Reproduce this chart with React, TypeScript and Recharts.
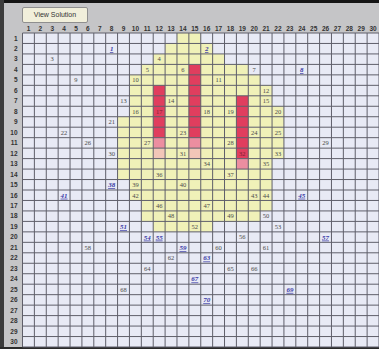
import { ScatterChart, Scatter, XAxis, YAxis, ReferenceArea, ReferenceLine } from "recharts";

// header labels
const colTicks = [1, 2, 3, 4, 5, 6, 7, 8, 9, 10, 11, 12, 13, 14, 15, 16, 17, 18, 19, 20, 21, 22, 23, 24, 25, 26, 27, 28, 29, 30];
const rowTicks = [1, 2, 3, 4, 5, 6, 7, 8, 9, 10, 11, 12, 13, 14, 15, 16, 17, 18, 19, 20, 21, 22, 23, 24, 25, 26, 27, 28, 29, 30];

// yellow band, one entry per row
const yellowRows = [1, 2, 3, 4, 5, 6, 7, 8, 9, 10, 11, 12, 13, 14, 15, 16, 17, 18, 19];
const yellowFrom = [14, 13, 12, 11, 10, 10, 10, 10, 9, 9, 9, 9, 9, 9, 10, 10, 11, 11, 12];
const yellowTo = [15, 16, 17, 19, 20, 21, 21, 22, 22, 22, 22, 22, 21, 21, 21, 21, 21, 20, 16];

// red columns
const redCols = [12, 15, 19];
const redFrom = [6, 4, 7];
const redTo = [10, 10, 12];
const pinkCols = [12, 15, 19];
const pinkRows = [11, 11, 13];
const paleCols = [12, 15];
const paleRows = [12, 12];

// numbers written in the cells
const numLabels = [1, 2, 3, 4, 5, 6, 7, 8, 9, 10, 11, 12, 13, 14, 15, 16, 17, 18, 19, 20, 21, 22, 23, 24, 25, 26, 27, 28, 29, 30, 31, 32, 33, 34, 35, 36, 37, 38, 39, 40, 41, 42, 43, 44, 45, 46, 47, 48, 49, 50, 51, 52, 53, 54, 55, 56, 57, 58, 59, 60, 61, 62, 63, 64, 65, 66, 67, 68, 69, 70];
const numCols = [8, 16, 3, 12, 11, 14, 20, 24, 5, 10, 17, 21, 9, 13, 21, 10, 12, 16, 18, 22, 8, 4, 14, 20, 22, 6, 11, 18, 26, 8, 14, 19, 22, 16, 21, 12, 18, 8, 10, 14, 4, 10, 20, 21, 24, 12, 16, 13, 18, 21, 9, 15, 22, 11, 12, 19, 26, 6, 14, 17, 21, 13, 16, 11, 18, 20, 15, 9, 23, 16];
const numRows = [2, 2, 3, 3, 4, 4, 4, 4, 5, 5, 5, 6, 7, 7, 7, 8, 8, 8, 8, 8, 9, 10, 10, 10, 10, 11, 11, 11, 11, 12, 12, 12, 12, 13, 13, 14, 14, 15, 15, 15, 16, 16, 16, 16, 16, 17, 17, 18, 18, 18, 19, 19, 19, 20, 20, 20, 20, 21, 21, 21, 21, 22, 22, 23, 23, 23, 24, 25, 25, 26];
const blueLabels = [1, 2, 8, 38, 41, 45, 51, 54, 55, 57, 59, 63, 67, 69, 70];
const onRedLabels = [17, 32];

const points = numLabels.map((n, i) => ({ x: numCols[i], y: numRows[i], label: n }));
const gridLines = [0.5, ...colTicks.map((t) => t + 0.5)];

const CELL_BG = "#e8eaf5";
const YELLOW = "#f0f1b8";
const RED = "#e03e5e";
const PINK = "#ec8ea0";
const PALE = "#f2c6b8";
const LINE = "#5f5f6a";

function NumberShape(props: any) {
  const { cx, cy, payload } = props;
  const blue = blueLabels.includes(payload.label);
  const onRed = onRedLabels.includes(payload.label);
  return (
    <text
      x={cx}
      y={cy}
      dy="0.35em"
      textAnchor="middle"
      fontSize={blue ? 7 : 6.5}
      fontFamily='"Liberation Serif", serif'
      fontWeight={blue ? "bold" : "normal"}
      fontStyle={blue ? "italic" : "normal"}
      textDecoration={blue ? "underline" : "none"}
      fill={blue ? "#3b3ba6" : onRed ? "#7a1f33" : "#4a4a4a"}
    >
      {payload.label}
    </text>
  );
}

export default function App() {
  return (
    <div
      style={{
        position: "fixed",
        left: 0,
        top: 0,
        width: 379,
        height: 349,
        background: "#c5c5c7",
        overflow: "hidden",
        fontFamily: '"Liberation Sans", Arial, sans-serif',
      }}
    >
      <div style={{ position: "absolute", left: 0, top: 0, width: 379, height: 3, background: "#151515" }} />
      <div style={{ position: "absolute", left: 0, top: 0, width: 4, height: 349, background: "#3c3c3c" }} />
      <div style={{ position: "absolute", left: 0, top: 347, width: 379, height: 2, background: "#2a2a2a" }} />
      <div
        style={{
          position: "absolute",
          left: 22,
          top: 7,
          width: 64,
          height: 14,
          background: "#f1efdb",
          border: "1px solid #8f8f8f",
          borderRadius: 2,
          fontSize: 7,
          lineHeight: "14px",
          textAlign: "center",
          color: "#333",
        }}
      >
        View Solution
      </div>
      <div style={{ position: "absolute", left: 0, top: 0 }}>
        <ScatterChart width={379} height={349} margin={{ top: 22, right: 0, bottom: 2, left: 5 }}>
          <XAxis
            type="number"
            dataKey="x"
            domain={[0.5, 30.5]}
            ticks={colTicks}
            orientation="top"
            height={11}
            interval={0}
            tickLine={false}
            axisLine={false}
            tickSize={0}
            tickMargin={2}
            tick={{ fontSize: 6.5, fill: "#333", fontWeight: "bold" }}
          />
          <YAxis
            type="number"
            dataKey="y"
            domain={[0.5, 30.5]}
            reversed
            ticks={rowTicks}
            width={17.5}
            interval={0}
            tickLine={false}
            axisLine={false}
            tickSize={0}
            tickMargin={5}
            tick={{ fontSize: 6.5, fill: "#333", fontWeight: "bold" }}
          />
          <ReferenceArea x1={0.5} x2={30.5} y1={0.5} y2={30.5} fill={CELL_BG} fillOpacity={1} ifOverflow="visible" />
          {yellowRows.map((r, i) => (
            <ReferenceArea
              key={`y${r}`}
              x1={yellowFrom[i] - 0.5}
              x2={yellowTo[i] + 0.5}
              y1={r - 0.5}
              y2={r + 0.5}
              fill={YELLOW}
              fillOpacity={1}
            />
          ))}
          {redCols.map((c, i) => (
            <ReferenceArea
              key={`r${c}`}
              x1={c - 0.5}
              x2={c + 0.5}
              y1={redFrom[i] - 0.5}
              y2={redTo[i] + 0.5}
              fill={RED}
              fillOpacity={1}
            />
          ))}
          {pinkCols.map((c, i) => (
            <ReferenceArea
              key={`p${c}`}
              x1={c - 0.5}
              x2={c + 0.5}
              y1={pinkRows[i] - 0.5}
              y2={pinkRows[i] + 0.5}
              fill={PINK}
              fillOpacity={1}
            />
          ))}
          {paleCols.map((c, i) => (
            <ReferenceArea
              key={`q${c}`}
              x1={c - 0.5}
              x2={c + 0.5}
              y1={paleRows[i] - 0.5}
              y2={paleRows[i] + 0.5}
              fill={PALE}
              fillOpacity={1}
            />
          ))}
          {gridLines.map((v) => (
            <ReferenceLine key={`vx${v}`} x={v} stroke={LINE} strokeWidth={1} ifOverflow="visible" />
          ))}
          {gridLines.map((v) => (
            <ReferenceLine key={`hy${v}`} y={v} stroke={LINE} strokeWidth={1} ifOverflow="visible" />
          ))}
          <Scatter data={points} shape={NumberShape} isAnimationActive={false} />
        </ScatterChart>
      </div>
    </div>
  );
}
